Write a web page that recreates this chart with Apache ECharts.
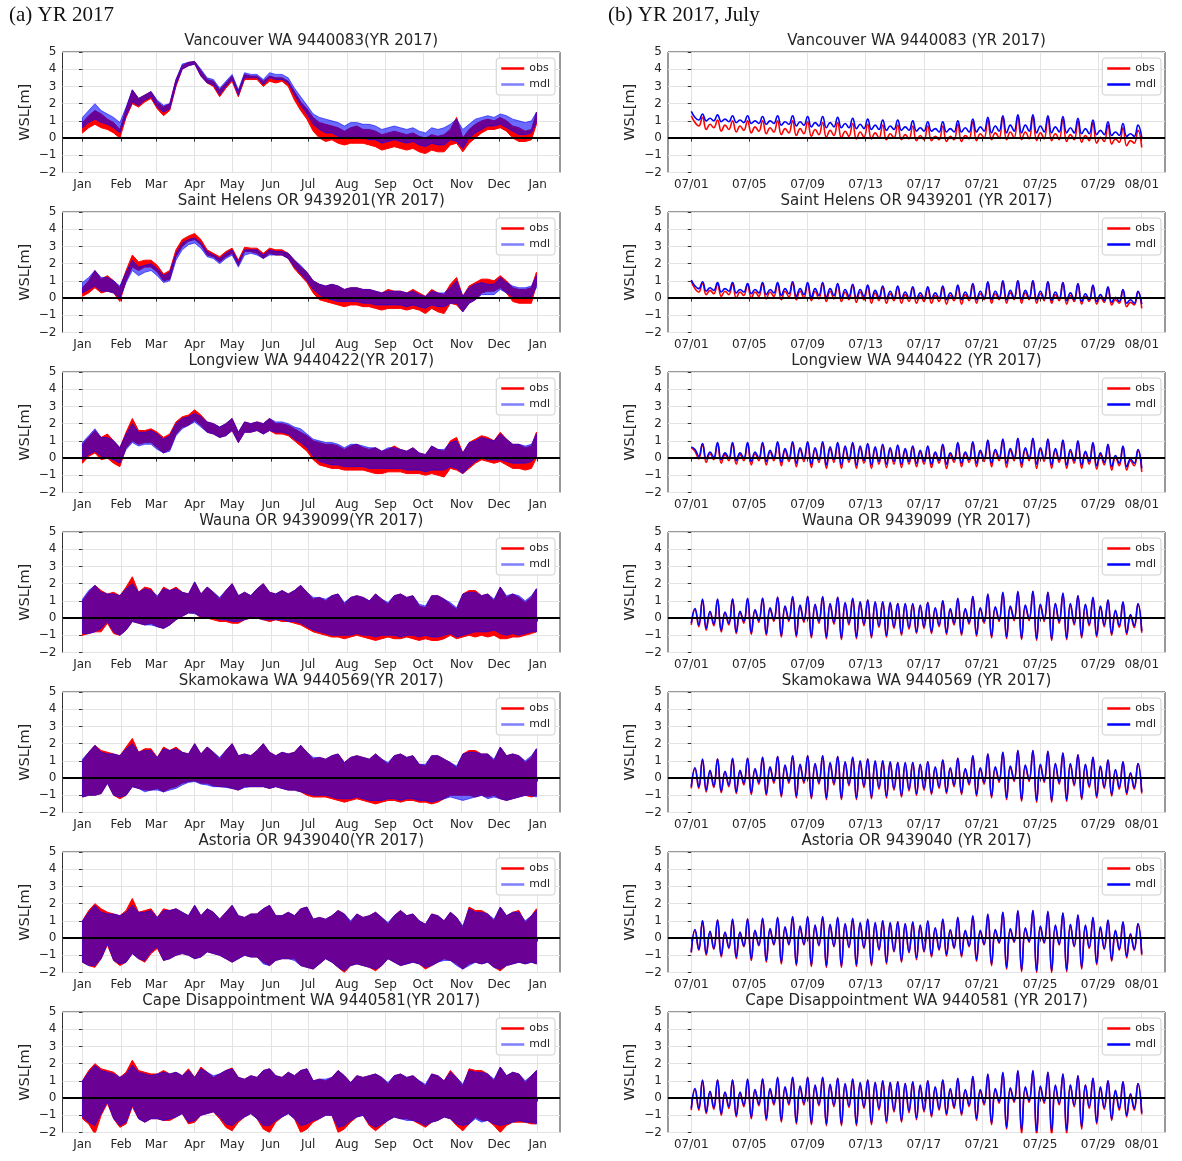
<!DOCTYPE html>
<html><head><meta charset="utf-8">
<script src="https://cdn.jsdelivr.net/npm/echarts@6/dist/echarts.min.js"></script>
<style>html,body{margin:0;padding:0;background:#fff}#c{width:1182px;height:1161px}</style>
</head><body><div id="c"></div>
<script>
// ---------- tick labels ----------
const monthTickDays = [0,31,59,90,120,151,181,212,243,273,304,334,365];
const monthTickLabels = ['Jan','Feb','Mar','Apr','May','Jun','Jul','Aug','Sep','Oct','Nov','Dec','Jan'];
const julyTickDays = [0,4,8,12,16,20,24,28,31];
const julyTickLabels = ['07/01','07/05','07/09','07/13','07/17','07/21','07/25','07/29','08/01'];
const yTicks = [-2,-1,0,1,2,3,4,5];

const stationNames = ['Vancouver WA 9440083','Saint Helens OR 9439201','Longview WA 9440422','Wauna OR 9439099','Skamokawa WA 9440569','Astoria OR 9439040','Cape Disappointment WA 9440581'];

// ---------- (a) YR 2017: envelope of water level, sampled every 5 days (day of year) ----------
const yearDays = [0,5,10,15,20,25,30,35,40,45,50,55,60,65,70,75,80,85,90,95,100,105,110,115,120,125,130,135,140,145,150,155,160,165,170,175,180,185,190,195,200,205,210,215,220,225,230,235,240,245,250,255,260,265,270,275,280,285,290,295,300,305,310,315,320,325,330,335,340,345,350,355,360,364];

const van_obs_lo = [.3,.6,.8,.6,.5,.3,0, 1.2,2.0,1.8,2.1,2.3,1.7,1.3, 1.6,3.0,4.0,4.2,4.3,3.6,3.2, 3.0,2.4,2.9,3.3,2.4,3.4,3.4, 3.4,3.0,3.3,3.2,3.3,3.0,2.2, 1.6,1.1,.4,0,-.2,-.1,-.3, -.4,-.3,-.3,-.3,-.4,-.5,-.7, -.6,-.5,-.6,-.7,-.6,-.8,-.9, -.7,-.8,-.8,-.4,-.3,-.8,-.3, 0,.3,.5,.5,.6,.4,0, -.2,-.2,-.1,.8];
const van_obs_hi = [.9,1.3,1.6,1.4,1.1,.9,.5, 1.7,2.8,2.3,2.5,2.7,2.1,1.8, 2.0,3.4,4.2,4.4,4.45,3.9,3.4, 3.3,2.8,3.2,3.6,2.7,3.7,3.6, 3.6,3.3,3.6,3.5,3.5,3.3,2.7, 2.1,1.7,1.2,.9,.8,.7,.6, .4,.6,.7,.5,.5,.4,.2, .3,.4,.3,.2,.3,.1,0, .2,.1,.2,.5,1.2,0,.5, .8,1.0,1.1,1.0,1.2,1.0,.7, .6,.4,.5,1.5];
const van_mdl_lo = [.6,.9,1.1,.9,.8,.6,.3, 1.3,2.1,1.9,2.2,2.4,1.8,1.5, 1.7,3.1,4.0,4.2,4.3,3.6,3.2, 3.1,2.5,3.0,3.4,2.5,3.5,3.5, 3.5,3.1,3.5,3.4,3.4,3.2,2.5, 1.9,1.4,.8,.5,.3,.3,.1, 0,.1,.1,0,-.1,-.1,-.3, -.2,-.1,-.2,-.3,-.2,-.4,-.5, -.3,-.4,-.4,-.1,-.2,-.6,0, .3,.5,.7,.7,.8,.6,.4, .2,.2,.3,.9];
const van_mdl_hi = [1.2,1.6,2.0,1.6,1.4,1.2,.9, 1.8,2.8,2.3,2.5,2.7,2.2,1.9, 2.0,3.4,4.3,4.4,4.45,4.0,3.5, 3.4,2.9,3.3,3.7,2.8,3.8,3.7, 3.7,3.4,3.8,3.7,3.7,3.5,2.9, 2.4,1.9,1.4,1.2,1.1,1.0,.9, .7,.9,.9,.8,.8,.7,.5, .6,.7,.6,.5,.6,.4,.3, .6,.5,.6,.8,1.1,.5,.8, 1.1,1.2,1.3,1.2,1.4,1.3,1.1, 1.0,.9,1.0,1.5];

const sh_obs_lo = [.1,.3,.6,.3,.4,.3,-.2, 1.0,1.8,1.6,1.8,1.8,1.5,1.0, 1.1,2.4,3.0,3.3,3.4,3.1,2.5, 2.4,2.1,2.4,2.6,1.9,2.7,2.7, 2.6,2.3,2.6,2.5,2.5,2.3,1.7, 1.3,.9,.3,-.1,-.2,-.3,-.4, -.5,-.4,-.4,-.5,-.5,-.6,-.7, -.6,-.6,-.6,-.7,-.6,-.7,-.9, -.6,-.8,-.9,-.3,-.4,-.8,-.3, -.1,.3,.4,.4,.6,.3,-.2, -.3,-.3,-.3,.8];
const sh_obs_hi = [.6,1.0,1.6,1.1,1.3,1.0,.6, 1.6,2.5,2.1,2.2,2.2,1.9,1.4, 1.6,2.8,3.4,3.6,3.75,3.4,2.8, 2.6,2.4,2.7,2.9,2.2,2.95,2.9, 2.9,2.6,2.9,2.8,2.8,2.6,2.2, 1.8,1.5,1.0,.8,.7,.8,.7, .5,.6,.6,.5,.5,.4,.3, .5,.4,.4,.3,.5,.3,.1, .5,.3,.2,.8,1.2,.1,.7, .9,1.1,1.1,1.0,1.3,1.0,.6, .5,.5,.6,1.5];
const sh_mdl_lo = [.3,.5,.7,.4,.4,.3,0, .9,1.6,1.3,1.5,1.6,1.3,.9, 1.0,2.2,2.8,3.1,3.2,2.9,2.4, 2.3,2.0,2.3,2.5,1.8,2.5,2.6, 2.5,2.3,2.5,2.5,2.5,2.3,1.8, 1.4,1.0,.5,.2,0,-.1,-.2, -.2,-.2,-.2,-.3,-.3,-.4,-.4, -.4,-.4,-.4,-.5,-.4,-.5,-.6, -.4,-.5,-.5,-.3,-.3,-.8,-.3, -.1,.2,.2,.2,.5,.3,.1, 0,0,.1,.6];
const sh_mdl_hi = [.9,1.2,1.6,1.2,1.2,1.0,.7, 1.5,2.2,1.8,1.9,2.0,1.7,1.3, 1.5,2.6,3.2,3.4,3.5,3.2,2.7, 2.5,2.3,2.6,2.8,2.1,2.8,2.8, 2.8,2.5,2.8,2.7,2.7,2.6,2.2, 1.9,1.5,1.0,.8,.7,.8,.7, .5,.6,.6,.5,.5,.4,.3, .4,.4,.4,.3,.4,.2,.1, .4,.3,.3,.6,1.0,.1,.6, .8,.9,.8,.8,1.2,.9,.7, .6,.6,.7,1.3];

const lv_obs_lo = [-.3,.1,.3,-.1,0,-.3,-.5, .6,1.0,.8,.9,.9,.6,.3, .5,1.4,1.8,1.9,2.2,1.9,1.5, 1.4,1.2,1.3,1.6,.9,1.5,1.5, 1.6,1.4,1.6,1.4,1.4,1.3,1.0, .7,.4,-.1,-.4,-.5,-.6,-.6, -.7,-.7,-.7,-.7,-.8,-.9,-.9, -.8,-.8,-.8,-.9,-.9,-.9,-1.0, -.9,-1.0,-1.1,-.6,-.7,-.9,-.6, -.3,-.1,-.2,-.3,-.2,-.4,-.6, -.6,-.7,-.6,0];
const lv_obs_hi = [.8,1.2,1.6,1.2,1.4,1.0,.6, 1.5,2.3,1.6,1.6,1.7,1.5,1.2, 1.4,2.1,2.4,2.5,2.8,2.5,2.1, 2.0,1.8,2.0,2.3,1.5,2.1,2.0, 2.1,2.0,2.3,2.0,2.0,1.9,1.7, 1.5,1.3,1.0,.9,.8,.8,.7, .5,.7,.8,.6,.5,.6,.4, .5,.7,.5,.4,.6,.3,.2, .7,.5,.4,1.0,1.2,.3,.9, 1.1,1.3,1.2,1.0,1.5,1.1,.8, .8,.6,.7,1.5];
const lv_mdl_lo = [-.1,.2,.4,.1,0,-.1,-.3, .5,.9,.7,.8,.8,.5,.3, .4,1.3,1.7,1.9,2.1,1.8,1.5, 1.4,1.2,1.3,1.6,.9,1.5,1.5, 1.6,1.4,1.6,1.5,1.5,1.4,1.1, .9,.6,.1,-.2,-.3,-.4,-.4, -.5,-.5,-.5,-.5,-.6,-.6,-.6, -.6,-.6,-.6,-.7,-.7,-.7,-.8, -.7,-.7,-.7,-.5,-.6,-.9,-.5, -.2,0,-.1,-.1,-.1,-.2,-.3, -.3,-.3,-.2,.1];
const lv_mdl_hi = [.9,1.3,1.7,1.2,1.2,1.0,.6, 1.4,2.0,1.5,1.5,1.6,1.4,1.1, 1.3,2.0,2.3,2.4,2.6,2.4,2.1, 2.0,1.8,2.0,2.3,1.5,2.1,2.0, 2.1,2.0,2.3,2.1,2.1,2.0,1.8, 1.7,1.4,1.1,1.0,.9,.9,.8, .6,.8,.8,.7,.6,.6,.4, .6,.6,.5,.4,.6,.3,.2, .7,.5,.5,.9,1.0,.3,.9, 1.0,1.2,1.1,1.0,1.4,1.1,.8, .8,.7,.8,1.4];

const wa_obs_lo = [-1.0,-.9,-.8,-.8,-.3,-.9,-1.0, -.7,-.2,-.3,-.4,-.3,-.5,-.6, -.4,-.1,.1,.3,.3,0,0, -.1,-.2,-.2,-.3,-.3,-.1,0, 0,-.1,-.2,-.1,-.2,-.2,-.3, -.4,-.6,-.8,-.9,-1.0,-1.1,-1.1, -1.2,-1.1,-1.0,-1.1,-1.2,-1.3,-1.2, -1.1,-1.2,-1.2,-1.1,-1.2,-1.3,-1.2, -1.3,-1.3,-1.2,-1.0,-1.2,-1.1,-1.0, -1.1,-1.0,-1.1,-1.0,-1.2,-1.2,-1.1, -1.1,-1.0,-.9,-.8];
const wa_obs_hi = [1.0,1.5,1.9,1.6,1.4,1.5,1.3, 1.8,2.4,1.5,1.8,1.7,1.2,1.8, 1.6,1.8,1.5,1.4,2.1,1.4,1.8, 1.5,1.1,1.6,2.0,1.3,1.5,1.3, 1.7,2.0,1.5,1.4,1.6,1.4,1.6, 1.9,1.5,1.1,1.2,1.0,1.3,1.4, .8,1.2,1.3,1.2,1.0,1.4,1.1, .8,1.3,1.4,1.2,1.3,.7,.6, 1.3,1.3,1.1,.8,.5,1.4,1.6, 1.6,1.3,1.4,1.0,1.8,1.2,1.4, 1.2,.9,1.2,1.7];
const wa_mdl_lo = [-.9,-.9,-.8,-.6,-.2,-.8,-1.0, -.7,-.2,-.3,-.4,-.4,-.5,-.6, -.4,-.1,.1,.3,.25,.1,0, 0,-.1,-.1,-.2,-.2,-.1,0, 0,-.1,-.1,-.1,-.1,-.2,-.2, -.3,-.5,-.7,-.8,-.9,-1.0,-1.0, -1.0,-1.0,-.9,-1.0,-1.0,-1.1,-1.0, -1.0,-1.0,-1.1,-1.0,-1.0,-1.1,-1.0, -1.1,-1.1,-1.0,-.9,-1.1,-1.0,-.9, -.8,-.8,-.8,-.7,-.9,-1.0,-.9, -1.0,-.9,-.8,-.8];
const wa_mdl_hi = [1.1,1.6,1.9,1.5,1.4,1.4,1.3, 1.7,2.0,1.5,1.7,1.6,1.3,1.7, 1.6,1.7,1.5,1.4,2.1,1.4,1.8, 1.5,1.2,1.6,2.0,1.3,1.5,1.3, 1.7,2.0,1.5,1.4,1.6,1.4,1.6, 1.9,1.5,1.2,1.2,1.1,1.3,1.4, .9,1.2,1.3,1.2,1.0,1.4,1.1, .9,1.3,1.4,1.2,1.3,.8,.7, 1.3,1.3,1.1,.9,.6,1.4,1.5, 1.5,1.3,1.4,1.1,1.8,1.3,1.4, 1.3,1.0,1.3,1.7];

const sk_obs_lo = [-1.1,-1.0,-1.0,-.9,-.3,-1.0,-1.2, -1.0,-.5,-.6,-.7,-.7,-.6,-.8, -.6,-.5,-.3,-.2,-.15,-.3,-.3, -.45,-.5,-.5,-.6,-.7,-.5,-.5, -.5,-.5,-.6,-.5,-.6,-.7,-.7, -.8,-1.0,-1.1,-1.1,-1.1,-1.2,-1.3, -1.4,-1.3,-1.2,-1.3,-1.4,-1.5,-1.4, -1.3,-1.3,-1.4,-1.3,-1.3,-1.4,-1.4, -1.5,-1.4,-1.2,-1.0,-1.0,-1.0,-1.0, -1.1,-1.0,-1.1,-1.0,-1.2,-1.3,-1.2, -1.1,-1.0,-1.1,-1.0];
const sk_obs_hi = [1.0,1.5,1.9,1.6,1.5,1.4,1.3, 1.8,2.3,1.5,1.7,1.7,1.2,1.8, 1.6,1.8,1.5,1.4,2.0,1.4,1.8, 1.5,1.1,1.6,2.0,1.3,1.4,1.3, 1.6,2.0,1.5,1.3,1.5,1.4,1.5, 1.9,1.5,1.1,1.2,1.1,1.3,1.4, .9,1.2,1.3,1.2,1.1,1.4,1.1, .8,1.3,1.4,1.2,1.3,.8,.7, 1.3,1.3,1.1,.9,.6,1.4,1.6, 1.6,1.4,1.4,1.0,1.8,1.3,1.4, 1.3,.9,1.2,1.7];
const sk_mdl_lo = [-1.1,-1.0,-1.0,-.9,-.3,-1.0,-1.1, -1.0,-.5,-.6,-.8,-.7,-.7,-.8, -.7,-.6,-.4,-.25,-.2,-.35,-.4, -.5,-.5,-.55,-.6,-.7,-.55,-.5, -.5,-.5,-.6,-.5,-.6,-.7,-.7, -.8,-.9,-1.0,-1.0,-1.0,-1.1,-1.2, -1.2,-1.2,-1.1,-1.2,-1.3,-1.3,-1.3, -1.2,-1.2,-1.3,-1.2,-1.2,-1.3,-1.3, -1.4,-1.3,-1.2,-1.1,-1.2,-1.3,-1.2, -1.1,-1.0,-1.2,-1.1,-1.2,-1.3,-1.2, -1.1,-1.0,-1.0,-1.1];
const sk_mdl_hi = [1.1,1.5,1.9,1.5,1.4,1.4,1.3, 1.7,2.0,1.5,1.6,1.6,1.2,1.7, 1.6,1.7,1.5,1.4,2.0,1.4,1.8, 1.5,1.2,1.6,2.0,1.3,1.4,1.3, 1.6,2.0,1.5,1.3,1.5,1.4,1.5, 1.9,1.5,1.2,1.2,1.1,1.3,1.4, .9,1.2,1.3,1.2,1.1,1.4,1.1, .9,1.3,1.4,1.2,1.3,.8,.8, 1.3,1.3,1.1,.9,.7,1.4,1.5, 1.5,1.4,1.4,1.1,1.8,1.3,1.4, 1.3,1.0,1.3,1.7];

const as_obs_lo = [-1.4,-1.6,-1.7,-1.2,-.4,-1.3,-1.6, -1.4,-.9,-1.2,-1.4,-.9,-.6,-1.3, -1.2,-1.0,-.9,-1.0,-1.2,-1.1,-.8, -.9,-1.0,-1.2,-1.4,-1.2,-1.0,-1.1, -1.1,-1.4,-1.6,-1.3,-1.2,-1.2,-1.2, -1.6,-1.7,-1.8,-1.5,-1.2,-1.4,-1.7, -2.0,-1.6,-1.5,-1.6,-1.7,-1.9,-1.6, -1.2,-1.4,-1.6,-1.5,-1.4,-1.5,-1.8, -1.6,-1.4,-1.2,-1.3,-1.5,-1.8,-1.5, -1.4,-1.5,-1.4,-1.7,-1.9,-1.6,-1.5, -1.4,-1.5,-1.4,-1.5];
const as_obs_hi = [1.0,1.6,2.0,1.7,1.5,1.4,1.3, 1.6,2.3,1.5,1.6,1.7,1.2,1.7, 1.6,1.7,1.5,1.3,1.9,1.3,1.7, 1.5,1.1,1.5,1.9,1.3,1.2,1.4, 1.4,1.7,1.9,1.3,1.3,1.5,1.3, 1.7,1.8,1.1,1.2,1.1,1.3,1.6, 1.4,.9,1.4,1.2,1.3,1.5,1.2, .8,1.3,1.6,1.3,1.4,1.0,.8, 1.4,1.3,1.0,1.5,1.2,.6,1.8, 1.6,1.6,1.4,1.0,1.8,1.3,1.5, 1.6,.9,1.3,1.7];
const as_mdl_lo = [-1.4,-1.6,-1.6,-1.2,-.3,-1.3,-1.5, -1.4,-.9,-1.2,-1.3,-.8,-.5,-1.3, -1.2,-1.0,-.9,-1.0,-1.2,-1.1,-.8, -.9,-1.0,-1.2,-1.4,-1.2,-1.0,-1.1, -1.1,-1.5,-1.6,-1.3,-1.2,-1.2,-1.3, -1.6,-1.7,-1.8,-1.5,-1.2,-1.4,-1.7, -1.9,-1.6,-1.5,-1.6,-1.7,-1.8,-1.6, -1.2,-1.4,-1.6,-1.5,-1.4,-1.5,-1.7, -1.6,-1.4,-1.3,-1.3,-1.6,-1.8,-1.6, -1.4,-1.5,-1.4,-1.7,-1.8,-1.6,-1.5, -1.4,-1.5,-1.4,-1.5];
const as_mdl_hi = [1.0,1.5,1.9,1.5,1.4,1.4,1.3, 1.5,1.9,1.5,1.5,1.6,1.2,1.6, 1.6,1.7,1.5,1.3,1.9,1.3,1.7, 1.5,1.1,1.5,1.9,1.3,1.2,1.4, 1.4,1.7,1.9,1.3,1.3,1.5,1.3, 1.7,1.8,1.1,1.2,1.1,1.3,1.6, 1.4,1.0,1.4,1.2,1.3,1.5,1.2, .9,1.3,1.6,1.3,1.4,1.0,.8, 1.4,1.3,1.0,1.5,1.2,.7,1.7, 1.5,1.5,1.4,1.1,1.8,1.3,1.5, 1.5,1.0,1.3,1.6];

const cd_obs_lo = [-1.2,-1.5,-2.1,-1.0,-.3,-1.2,-1.7, -1.5,-.5,-1.2,-1.4,-1.2,-1.2,-1.3, -1.3,-1.1,-.9,-1.5,-1.4,-1.0,-.9, -.8,-1.2,-1.7,-1.9,-1.4,-1.1,-.9, -1.2,-1.8,-2.0,-1.4,-1.1,-.9,-1.2, -2.0,-1.8,-1.4,-1.2,-1.0,-1.0,-2.0, -1.8,-1.4,-1.1,-1.0,-1.6,-1.9,-1.6, -1.3,-1.1,-1.2,-1.2,-1.3,-1.5,-1.7, -1.4,-1.3,-1.1,-1.2,-1.6,-1.9,-1.5, -1.1,-1.3,-1.3,-1.6,-2.0,-1.6,-1.4, -1.4,-1.4,-1.5,-1.5];
const cd_obs_hi = [1.0,1.6,2.0,1.7,1.6,1.5,1.2, 1.5,2.2,1.6,1.5,1.4,1.4,1.6, 1.4,1.5,1.3,1.7,1.2,1.8,1.5, 1.2,1.4,1.6,1.75,1.2,1.1,1.3, 1.2,1.6,1.7,1.3,1.2,1.5,1.3, 1.6,1.7,1.0,1.1,1.0,1.2,1.6, 1.3,.9,1.3,1.2,1.3,1.4,1.2, .8,1.3,1.4,1.2,1.3,1.0,.7, 1.4,1.3,1.0,1.6,1.2,.7,1.7, 1.6,1.6,1.4,1.0,1.8,1.3,1.5, 1.4,.9,1.3,1.6];
const cd_mdl_lo = [-1.1,-1.4,-1.6,-.9,-.2,-1.2,-1.6, -1.4,-.4,-1.2,-1.4,-1.2,-1.2,-1.3, -1.2,-1.1,-.9,-1.4,-1.3,-1.0,-.9, -.8,-1.1,-1.5,-1.6,-1.3,-1.1,-.9, -1.2,-1.6,-1.6,-1.3,-1.1,-.9,-1.2, -1.6,-1.5,-1.3,-1.2,-1.0,-1.0,-1.7, -1.6,-1.3,-1.1,-1.0,-1.5,-1.7,-1.5, -1.3,-1.1,-1.2,-1.3,-1.3,-1.4,-1.6, -1.4,-1.3,-1.1,-1.2,-1.5,-1.6,-1.5, -1.2,-1.4,-1.3,-1.5,-1.6,-1.5,-1.4, -1.3,-1.4,-1.4,-1.5];
const cd_mdl_hi = [1.0,1.5,1.9,1.6,1.5,1.4,1.2, 1.4,1.9,1.5,1.4,1.3,1.4,1.5, 1.4,1.5,1.3,1.6,1.2,1.7,1.5, 1.3,1.4,1.6,1.7,1.2,1.1,1.3, 1.2,1.6,1.7,1.3,1.2,1.5,1.3, 1.6,1.7,1.0,1.1,1.1,1.2,1.6, 1.3,.9,1.3,1.2,1.3,1.4,1.2, .9,1.3,1.4,1.2,1.3,1.0,.8, 1.4,1.3,1.0,1.5,1.2,.8,1.6, 1.5,1.5,1.4,1.1,1.8,1.3,1.5, 1.4,1.0,1.3,1.6];

// ---------- (b) July 2017: tidal extremes per tidal day (lower high, higher low, higher high, lower low) ----------
const vnj_obs_start = 1.3, vnj_mdl_start = 1.55;
const vnj_obs_lh = [.9,.8,.75,.7,.65,.6,.55,.55,.5,.45,.4,.35,.3,.25,.2,.15,.1,.1,.15,.25,.3,.35,.35,.3,.25,.2,.15,.05,-.05,-.15];
const vnj_obs_hl = [.7,.6,.5,.45,.4,.35,.3,.25,.2,.15,.1,.05,0,0,-.05,-.1,-.1,-.1,-.05,0,0,0,-.05,-.05,-.1,-.1,-.15,-.2,-.25,-.3];
const vnj_obs_hh = [1.2,1.05,1.0,1.0,1.0,1.0,1.0,.95,.9,.9,.85,.8,.75,.75,.7,.7,.7,.8,.95,1.05,1.2,1.25,1.25,1.2,1.1,1.0,.9,.75,.6,.45];
const vnj_obs_ll = [.5,.4,.35,.3,.25,.2,.15,.1,.05,0,-.05,-.05,-.1,-.1,-.15,-.15,-.2,-.2,-.15,-.1,-.1,-.1,-.15,-.15,-.2,-.25,-.3,-.35,-.45,-.55];
const vnj_mdl_lh = [1.2,1.15,1.1,1.05,1.0,1.0,.95,.95,.9,.9,.85,.8,.75,.7,.65,.6,.55,.55,.6,.65,.7,.75,.75,.7,.65,.6,.55,.45,.35,.25];
const vnj_mdl_hl = [1.05,1.0,.95,.9,.85,.85,.8,.75,.7,.65,.6,.55,.5,.5,.45,.4,.35,.35,.35,.4,.4,.4,.4,.35,.35,.3,.25,.2,.15,.1];
const vnj_mdl_hh = [1.4,1.35,1.3,1.3,1.25,1.3,1.3,1.25,1.25,1.2,1.15,1.1,1.05,1.05,1.0,.95,.95,1.0,1.1,1.2,1.3,1.35,1.35,1.3,1.25,1.15,1.05,.95,.85,.75];
const vnj_mdl_ll = [1.0,.95,.9,.85,.8,.75,.7,.65,.6,.6,.55,.5,.45,.45,.4,.4,.35,.35,.35,.3,.3,.3,.3,.3,.3,.25,.2,.15,.1,.05];

const shj_obs_start = 1.0, shj_mdl_start = 1.05;
const shj_obs_lh = [.55,.45,.4,.35,.35,.35,.4,.4,.4,.4,.35,.35,.3,.25,.2,.15,.15,.15,.2,.25,.25,.3,.3,.25,.2,.15,.1,.05,-.1,-.25];
const shj_obs_hl = [.35,.25,.2,.15,.1,.1,.05,0,-.05,-.05,-.1,-.1,-.15,-.15,-.2,-.2,-.2,-.15,-.15,-.1,-.1,-.1,-.1,-.15,-.15,-.2,-.2,-.25,-.3,-.4];
const shj_obs_hh = [.85,.8,.8,.8,.85,.85,.9,.85,.85,.8,.75,.7,.65,.65,.6,.6,.65,.7,.8,.9,.95,1.0,1.0,.95,.9,.8,.7,.6,.45,.35];
const shj_obs_ll = [.2,.1,0,0,-.05,-.1,-.1,-.15,-.2,-.2,-.25,-.3,-.3,-.3,-.3,-.3,-.35,-.35,-.3,-.3,-.3,-.3,-.3,-.3,-.35,-.35,-.35,-.4,-.5,-.6];
const shj_mdl_lh = [.7,.6,.55,.5,.5,.5,.55,.55,.55,.55,.5,.5,.45,.4,.35,.3,.3,.3,.35,.4,.4,.45,.45,.4,.35,.3,.25,.2,.05,-.1];
const shj_mdl_hl = [.55,.45,.4,.35,.3,.3,.25,.2,.15,.15,.1,.1,.05,0,0,0,0,0,0,0,0,0,0,-.05,-.05,-.1,-.1,-.15,-.2,-.3];
const shj_mdl_hh = [.95,.9,.9,.85,.9,.9,.95,.9,.9,.85,.8,.75,.7,.7,.65,.65,.7,.75,.85,.95,1.0,1.0,1.0,.95,.9,.85,.75,.65,.5,.4];
const shj_mdl_ll = [.4,.35,.3,.25,.2,.15,.1,.05,.05,0,0,-.05,-.05,-.05,-.05,-.05,-.1,-.1,-.1,-.1,-.1,-.1,-.1,-.15,-.15,-.2,-.2,-.25,-.3,-.35];

const lvj_obs_start = .6, lvj_mdl_start = .65;
const lvj_obs_lh = [.4,.25,.2,.2,.25,.35,.45,.5,.5,.55,.6,.6,.55,.5,.45,.35,.25,.2,.25,.35,.4,.45,.5,.5,.45,.4,.3,.2,.05,-.15];
const lvj_obs_hl = [-.05,-.1,-.15,-.15,-.15,-.15,-.2,-.2,-.25,-.25,-.25,-.3,-.35,-.35,-.35,-.35,-.3,-.25,-.25,-.2,-.15,-.15,-.15,-.2,-.25,-.3,-.35,-.4,-.45,-.45];
const lvj_obs_hh = [.8,.85,.85,.85,.85,.9,.9,.9,.9,.85,.85,.8,.75,.7,.65,.65,.75,.85,.9,1.0,1.05,1.1,1.1,1.05,1.0,.95,.85,.75,.65,.45];
const lvj_obs_ll = [-.25,-.3,-.35,-.4,-.4,-.45,-.5,-.55,-.6,-.6,-.6,-.6,-.55,-.55,-.5,-.55,-.6,-.5,-.5,-.5,-.55,-.55,-.6,-.6,-.6,-.6,-.65,-.7,-.7,-.8];
const lvj_mdl_lh = [.5,.35,.3,.3,.35,.45,.55,.6,.6,.65,.7,.7,.65,.6,.55,.45,.35,.3,.35,.45,.5,.55,.6,.6,.55,.5,.4,.3,.15,-.05];
const lvj_mdl_hl = [.1,.05,0,0,0,0,-.05,-.05,-.1,-.1,-.1,-.15,-.2,-.2,-.2,-.2,-.15,-.1,-.1,-.05,0,0,0,-.05,-.1,-.15,-.2,-.25,-.3,-.3];
const lvj_mdl_hh = [.85,.9,.9,.9,.9,.95,.95,.95,.95,.9,.9,.85,.8,.75,.7,.7,.8,.9,.95,1.05,1.1,1.15,1.15,1.1,1.05,1.0,.9,.8,.7,.5];
const lvj_mdl_ll = [-.05,-.1,-.15,-.2,-.2,-.25,-.3,-.35,-.4,-.4,-.4,-.4,-.35,-.35,-.3,-.35,-.35,-.3,-.3,-.3,-.3,-.35,-.35,-.4,-.4,-.4,-.45,-.5,-.5,-.6];

const waj_obs_start = -.4, waj_mdl_start = -.3;
const waj_obs_lh = [.5,.35,.3,.35,.45,.55,.65,.7,.75,.8,.85,.9,.9,.85,.8,.7,.55,.5,.5,.55,.6,.65,.7,.75,.8,.8,.75,.65,.4,.15];
const waj_obs_hl = [-.5,-.45,-.4,-.3,-.25,-.2,-.2,-.25,-.3,-.35,-.4,-.45,-.55,-.6,-.65,-.6,-.5,-.4,-.35,-.3,-.2,-.15,-.15,-.2,-.3,-.4,-.45,-.5,-.55,-.55];
const waj_obs_hh = [1.05,1.05,1.1,1.1,1.15,1.2,1.2,1.25,1.2,1.2,1.1,1.05,.95,.85,.8,.9,1.0,1.1,1.25,1.35,1.45,1.5,1.55,1.5,1.4,1.3,1.15,1.05,.9,.8];
const waj_obs_ll = [-.7,-.8,-.9,-.95,-1.0,-1.1,-1.1,-1.15,-1.2,-1.25,-1.2,-1.15,-1.1,-1.0,-.9,-.9,-.95,-1.0,-1.05,-1.15,-1.2,-1.25,-1.3,-1.3,-1.25,-1.15,-1.1,-1.0,-.95,-.85];
const waj_mdl_lh = [.55,.4,.35,.4,.5,.6,.7,.75,.8,.85,.9,.95,.95,.9,.85,.75,.6,.55,.55,.6,.65,.7,.75,.8,.85,.85,.8,.7,.45,.2];
const waj_mdl_hl = [-.4,-.35,-.3,-.2,-.15,-.1,-.1,-.15,-.2,-.25,-.3,-.35,-.45,-.5,-.55,-.5,-.4,-.3,-.25,-.2,-.1,-.05,-.05,-.1,-.2,-.3,-.35,-.4,-.45,-.45];
const waj_mdl_hh = [1.1,1.1,1.1,1.15,1.15,1.2,1.25,1.25,1.25,1.2,1.15,1.05,.95,.85,.85,.9,1.0,1.15,1.25,1.4,1.5,1.55,1.55,1.5,1.45,1.3,1.2,1.05,.95,.85];
const waj_mdl_ll = [-.6,-.7,-.8,-.85,-.9,-1.0,-1.0,-1.05,-1.1,-1.15,-1.1,-1.05,-1.0,-.9,-.8,-.8,-.85,-.9,-.95,-1.05,-1.1,-1.15,-1.2,-1.2,-1.15,-1.05,-1.0,-.9,-.85,-.75];

const skj_obs_start = -.6, skj_mdl_start = -.5;
const skj_obs_lh = [.55,.4,.35,.4,.5,.6,.7,.75,.8,.85,.9,.95,.95,.9,.85,.75,.6,.55,.5,.55,.6,.65,.7,.75,.8,.8,.75,.65,.45,.25];
const skj_obs_hl = [-.6,-.55,-.5,-.4,-.35,-.3,-.3,-.3,-.35,-.4,-.45,-.55,-.65,-.7,-.75,-.7,-.6,-.5,-.4,-.35,-.25,-.2,-.2,-.25,-.35,-.45,-.55,-.6,-.65,-.65];
const skj_obs_hh = [1.05,1.1,1.1,1.15,1.2,1.25,1.3,1.3,1.3,1.25,1.2,1.1,1.0,.9,.9,.95,1.05,1.15,1.3,1.4,1.5,1.6,1.6,1.55,1.45,1.35,1.2,1.05,.95,.85];
const skj_obs_ll = [-.8,-.85,-.9,-.95,-1.0,-1.1,-1.15,-1.2,-1.25,-1.25,-1.25,-1.2,-1.15,-1.1,-1.0,-.95,-.9,-.95,-1.05,-1.15,-1.25,-1.35,-1.4,-1.4,-1.35,-1.25,-1.15,-1.05,-.95,-.9];
const skj_mdl_lh = [.6,.45,.4,.45,.55,.65,.75,.8,.85,.9,.95,1.0,1.0,.95,.9,.8,.65,.6,.55,.6,.65,.7,.75,.8,.85,.85,.8,.7,.5,.3];
const skj_mdl_hl = [-.5,-.45,-.4,-.3,-.25,-.2,-.2,-.2,-.25,-.3,-.35,-.45,-.55,-.6,-.65,-.6,-.5,-.4,-.3,-.25,-.15,-.1,-.1,-.15,-.25,-.35,-.45,-.5,-.55,-.55];
const skj_mdl_hh = [1.1,1.1,1.15,1.15,1.2,1.25,1.3,1.3,1.3,1.25,1.2,1.1,1.0,.9,.9,.95,1.05,1.15,1.3,1.4,1.5,1.6,1.6,1.55,1.45,1.35,1.2,1.05,.95,.85];
const skj_mdl_ll = [-.7,-.75,-.8,-.85,-.9,-1.0,-1.05,-1.1,-1.15,-1.15,-1.15,-1.1,-1.05,-1.0,-.9,-.85,-.8,-.85,-.95,-1.05,-1.15,-1.25,-1.3,-1.3,-1.25,-1.15,-1.05,-.95,-.85,-.8];

const asj_obs_start = -.85, asj_mdl_start = -.8;
const asj_obs_lh = [.45,.35,.3,.3,.4,.5,.6,.65,.7,.75,.8,.85,.85,.85,.8,.7,.55,.45,.4,.4,.45,.5,.55,.65,.7,.75,.7,.6,.4,.2];
const asj_obs_hl = [-.7,-.65,-.6,-.5,-.45,-.4,-.4,-.4,-.45,-.5,-.55,-.6,-.7,-.8,-.85,-.8,-.7,-.6,-.5,-.4,-.3,-.25,-.25,-.3,-.4,-.5,-.6,-.65,-.7,-.7];
const asj_obs_hh = [1.0,1.05,1.05,1.1,1.1,1.15,1.2,1.2,1.2,1.15,1.1,1.05,1.0,.95,.9,.95,1.05,1.15,1.25,1.35,1.5,1.55,1.6,1.5,1.45,1.3,1.15,1.0,.9,.8];
const asj_obs_ll = [-1.0,-1.1,-1.2,-1.3,-1.4,-1.5,-1.6,-1.65,-1.7,-1.7,-1.65,-1.6,-1.5,-1.4,-1.25,-1.1,-1.05,-1.1,-1.35,-1.6,-1.8,-1.95,-2.0,-2.0,-1.95,-1.8,-1.55,-1.35,-1.15,-1.0];
const asj_mdl_lh = [.5,.4,.35,.35,.45,.55,.65,.7,.75,.8,.85,.9,.9,.9,.85,.75,.6,.5,.45,.45,.5,.55,.6,.7,.75,.8,.75,.65,.45,.25];
const asj_mdl_hl = [-.65,-.6,-.55,-.45,-.4,-.35,-.35,-.35,-.4,-.45,-.5,-.55,-.65,-.75,-.8,-.75,-.65,-.55,-.45,-.35,-.25,-.2,-.2,-.25,-.35,-.45,-.55,-.6,-.65,-.65];
const asj_mdl_hh = [1.0,1.05,1.1,1.1,1.15,1.2,1.25,1.25,1.25,1.2,1.15,1.1,1.0,.95,.95,1.0,1.1,1.2,1.3,1.4,1.5,1.6,1.6,1.55,1.45,1.35,1.2,1.05,.95,.85];
const asj_mdl_ll = [-.9,-1.0,-1.1,-1.2,-1.3,-1.4,-1.5,-1.55,-1.6,-1.6,-1.55,-1.5,-1.4,-1.3,-1.15,-1.0,-.95,-1.0,-1.25,-1.5,-1.7,-1.85,-1.9,-1.9,-1.85,-1.7,-1.45,-1.25,-1.05,-.9];

const cdj_obs_start = -.7, cdj_mdl_start = -.6;
const cdj_obs_lh = [.5,.35,.3,.3,.45,.5,.6,.65,.7,.75,.8,.85,.9,.9,.85,.7,.6,.5,.45,.45,.5,.55,.6,.65,.7,.75,.75,.6,.4,.2];
const cdj_obs_hl = [-.7,-.65,-.6,-.5,-.45,-.4,-.4,-.4,-.45,-.5,-.55,-.6,-.7,-.8,-.85,-.8,-.7,-.6,-.5,-.4,-.3,-.25,-.25,-.3,-.4,-.5,-.6,-.65,-.7,-.7];
const cdj_obs_hh = [1.0,1.05,1.05,1.05,1.1,1.15,1.2,1.2,1.2,1.15,1.1,1.05,1.0,.95,.95,1.0,1.05,1.1,1.25,1.35,1.45,1.55,1.55,1.5,1.4,1.3,1.15,1.0,.95,.85];
const cdj_obs_ll = [-.9,-1.0,-1.1,-1.2,-1.3,-1.4,-1.5,-1.55,-1.6,-1.6,-1.6,-1.55,-1.45,-1.4,-1.25,-1.1,-1.0,-1.0,-1.3,-1.55,-1.8,-2.1,-2.2,-2.2,-2.1,-1.8,-1.5,-1.3,-1.1,-.95];
const cdj_mdl_lh = [.55,.4,.35,.35,.5,.55,.65,.7,.75,.8,.85,.9,.9,.9,.85,.75,.65,.55,.5,.5,.55,.6,.65,.7,.75,.75,.75,.65,.45,.25];
const cdj_mdl_hl = [-.6,-.55,-.5,-.4,-.35,-.3,-.3,-.3,-.35,-.4,-.45,-.5,-.6,-.7,-.75,-.7,-.6,-.5,-.4,-.3,-.2,-.15,-.15,-.2,-.3,-.4,-.5,-.55,-.6,-.6];
const cdj_mdl_hh = [1.05,1.05,1.05,1.1,1.1,1.2,1.2,1.2,1.2,1.15,1.1,1.05,1.0,.95,.95,1.0,1.05,1.15,1.25,1.4,1.5,1.6,1.6,1.5,1.4,1.3,1.15,1.0,.95,.85];
const cdj_mdl_ll = [-.8,-.9,-1.0,-1.1,-1.2,-1.3,-1.4,-1.45,-1.5,-1.5,-1.5,-1.45,-1.35,-1.3,-1.15,-1.0,-.9,-.9,-1.2,-1.45,-1.7,-1.85,-1.9,-1.9,-1.85,-1.65,-1.4,-1.2,-1.0,-.85];

// ---------- assemble ----------
const yearBands = [
  [van_obs_lo, van_obs_hi, van_mdl_lo, van_mdl_hi],
  [sh_obs_lo, sh_obs_hi, sh_mdl_lo, sh_mdl_hi],
  [lv_obs_lo, lv_obs_hi, lv_mdl_lo, lv_mdl_hi],
  [wa_obs_lo, wa_obs_hi, wa_mdl_lo, wa_mdl_hi],
  [sk_obs_lo, sk_obs_hi, sk_mdl_lo, sk_mdl_hi],
  [as_obs_lo, as_obs_hi, as_mdl_lo, as_mdl_hi],
  [cd_obs_lo, cd_obs_hi, cd_mdl_lo, cd_mdl_hi]
];
const julySets = [
  [[vnj_obs_start, vnj_obs_lh, vnj_obs_hl, vnj_obs_hh, vnj_obs_ll], [vnj_mdl_start, vnj_mdl_lh, vnj_mdl_hl, vnj_mdl_hh, vnj_mdl_ll]],
  [[shj_obs_start, shj_obs_lh, shj_obs_hl, shj_obs_hh, shj_obs_ll], [shj_mdl_start, shj_mdl_lh, shj_mdl_hl, shj_mdl_hh, shj_mdl_ll]],
  [[lvj_obs_start, lvj_obs_lh, lvj_obs_hl, lvj_obs_hh, lvj_obs_ll], [lvj_mdl_start, lvj_mdl_lh, lvj_mdl_hl, lvj_mdl_hh, lvj_mdl_ll]],
  [[waj_obs_start, waj_obs_lh, waj_obs_hl, waj_obs_hh, waj_obs_ll], [waj_mdl_start, waj_mdl_lh, waj_mdl_hl, waj_mdl_hh, waj_mdl_ll]],
  [[skj_obs_start, skj_obs_lh, skj_obs_hl, skj_obs_hh, skj_obs_ll], [skj_mdl_start, skj_mdl_lh, skj_mdl_hl, skj_mdl_hh, skj_mdl_ll]],
  [[asj_obs_start, asj_obs_lh, asj_obs_hl, asj_obs_hh, asj_obs_ll], [asj_mdl_start, asj_mdl_lh, asj_mdl_hl, asj_mdl_hh, asj_mdl_ll]],
  [[cdj_obs_start, cdj_obs_lh, cdj_obs_hl, cdj_obs_hh, cdj_obs_ll], [cdj_mdl_start, cdj_mdl_lh, cdj_mdl_hl, cdj_mdl_hh, cdj_mdl_ll]]
];
// extremes are ~6.2 h apart: 121 points from 07/01 00:00 to 08/01 00:00
function tideSeries(set) {
  const [start, lh, hl, hh, ll] = set;
  const vals = [start];
  for (let j = 0; j < lh.length; j++) vals.push(lh[j], hl[j], hh[j], ll[j]);
  const step = 31 / (vals.length - 1);
  return vals.map((v, k) => [k * step, v]);
}

const FONT = 'DejaVu Sans';
const TXT = '#262626';
const ROW0 = 52, ROWSTEP = 160, PH = 120.5;
const LEFT_X = 62.5, LEFT_W = 497.5, RIGHT_X = 668, RIGHT_W = 497;

const grids = [], xAxes = [], yAxes = [], series = [], legends = [], graphics = [];

function fmtY(v) { return v < 0 ? '\u2212' + Math.abs(v) : String(v); }

graphics.push({type:'text', x: 9, y: 15, style:{text:'(a) YR 2017', font:'21px "Liberation Serif"', fill:'#111', textAlign:'left', textVerticalAlign:'middle', align:'left', verticalAlign:'middle'}});
graphics.push({type:'text', x: 608, y: 15, style:{text:'(b) YR 2017, July', font:'21px "Liberation Serif"', fill:'#111', textAlign:'left', textVerticalAlign:'middle', align:'left', verticalAlign:'middle'}});

for (let r = 0; r < 7; r++) {
  const top = ROW0 + ROWSTEP * r;
  for (let side = 0; side < 2; side++) {
    const gi = r * 2 + side;
    const gx = side ? RIGHT_X : LEFT_X, gw = side ? RIGHT_W : LEFT_W;
    grids.push({left: gx, top: top, width: gw, height: PH, show: true, borderColor: '#333', borderWidth: 1, backgroundColor: 'transparent', containLabel: false});
    const ticks = side ? julyTickDays : monthTickDays;
    const labels = side ? julyTickLabels : monthTickLabels;
    xAxes.push({
      type: 'value', gridIndex: gi,
      min: side ? -1.6 : -16, max: side ? 32.6 : 382.9,
      axisLine: {show: false},
      axisTick: {show: true, customValues: ticks, length: 3.5, lineStyle: {color: '#333', width: 1}},
      axisLabel: {customValues: ticks, margin: 6, fontSize: 12, color: TXT, fontFamily: FONT,
        formatter: v => { const i = ticks.indexOf(v); return i >= 0 ? labels[i] : ''; }},
      splitLine: {show: true, lineStyle: {color: '#e3e3e3', width: 1}}
    });
    yAxes.push({
      type: 'value', gridIndex: gi, min: -2, max: 5, interval: 1,
      name: 'WSL[m]', nameLocation: 'middle', nameGap: 30,
      nameTextStyle: {fontSize: 14.5, color: TXT, fontFamily: FONT},
      axisLine: {show: false},
      axisTick: {show: true, length: 3.5, lineStyle: {color: '#333', width: 1}},
      axisLabel: {margin: 6, fontSize: 12, color: TXT, fontFamily: FONT, formatter: fmtY},
      splitLine: {show: true, lineStyle: {color: '#e3e3e3', width: 1}}
    });
    // title
    graphics.push({type:'text', x: gx + gw / 2, y: top - 11,
      style:{text: stationNames[r] + (side ? ' (YR 2017)' : '(YR 2017)'), font: '15px "DejaVu Sans"', fill: TXT,
        textAlign:'center', textVerticalAlign:'middle', align:'center', verticalAlign:'middle'}});
    if (!side) {
      const [oLo, oHi, mLo, mHi] = yearBands[r];
      const band = (name, lo, hi, color, z) => ({
        type: 'custom', name: name, xAxisIndex: gi, yAxisIndex: gi, z: z, silent: true,
        data: [[yearDays[0], lo[0]]],
        renderItem: (params, api) => {
          const pts = [];
          for (let i = 0; i < yearDays.length; i++) pts.push(api.coord([yearDays[i], hi[i]]));
          for (let i = yearDays.length - 1; i >= 0; i--) pts.push(api.coord([yearDays[i], lo[i]]));
          const cs = params.coordSys;
          return {type: 'polygon', shape: {points: pts}, style: {fill: color, stroke: color, lineWidth: 1},
            clipPath: {type: 'rect', shape: {x: cs.x, y: cs.y, width: cs.width, height: cs.height}}};
        }
      });
      series.push(band('obs', oLo, oHi, '#ff0000', 2));
      series.push(band('mdl', mLo, mHi, 'rgba(0,0,255,0.58)', 3));
    } else {
      const [oSet, mSet] = julySets[r];
      const ln = (name, set, color, z) => ({
        type: 'line', name: name, xAxisIndex: gi, yAxisIndex: gi, z: z, silent: true,
        data: tideSeries(set), showSymbol: false, symbol: 'none', smooth: 0.45, clip: true,
        lineStyle: {color: color, width: 1.6}, itemStyle: {color: color}, animation: false
      });
      series.push(ln('obs', oSet, '#ff0000', 2));
      series.push(ln('mdl', mSet, '#0000ff', 3));
    }
    series.push({type: 'line', name: 'zero', xAxisIndex: gi, yAxisIndex: gi, data: [], z: 6, silent: true,
      markLine: {silent: true, symbol: ['none', 'none'], label: {show: false}, animation: false,
        lineStyle: {color: '#000', width: 1.8, type: 'solid'}, data: [{yAxis: 0}]}});
    legends.push({
      orient: 'vertical', right: side ? 1182 - (gx + gw) + 4 : 1182 - (gx + gw) + 5, top: top + 6,
      itemWidth: 23, itemHeight: 2.5, itemGap: 3, padding: [4, 5, 4, 5],
      borderColor: '#d0d0d0', borderWidth: 1, borderRadius: 3, backgroundColor: 'rgba(255,255,255,0.85)',
      selectedMode: false,
      textStyle: {fontSize: 11, color: TXT, fontFamily: FONT, lineHeight: 13},
      data: [{name: 'obs', icon: 'rect', itemStyle: {color: '#ff0000'}},
             {name: 'mdl', icon: 'rect', itemStyle: {color: side ? '#0000ff' : '#7f7fff'}}]
    });
  }
}

const chart = echarts.init(document.getElementById('c'), null, {renderer: 'canvas'});
chart.setOption({
  animation: false,
  backgroundColor: '#fff',
  grid: grids, xAxis: xAxes, yAxis: yAxes, series: series, legend: legends, graphic: graphics
});
</script></body></html>
